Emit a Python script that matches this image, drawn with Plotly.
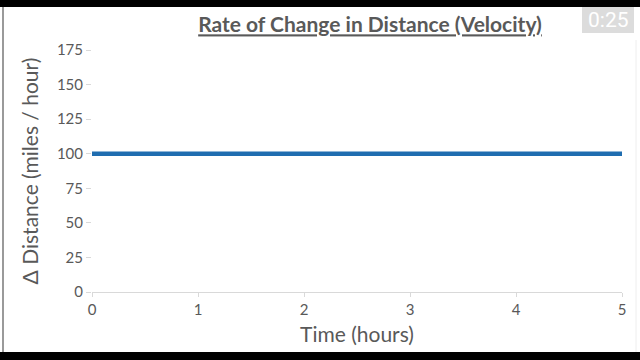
import plotly.graph_objects as go

# Data
time_hours = [0, 1, 2, 3, 4, 5]
velocity_mph = [100, 100, 100, 100, 100, 100]
x_ticks = [0, 1, 2, 3, 4, 5]
y_ticks = [0, 25, 50, 75, 100, 125, 150, 175]

FONT = "Lato"
GREY = "#595959"

fig = go.Figure()
fig.add_trace(go.Scatter(
    x=time_hours, y=velocity_mph, mode="lines",
    line=dict(color="#1F6DB0", width=4.5),
    hoverinfo="skip", showlegend=False,
))

# paper-coordinate helpers (plot area: x 92..622 px, y 50..292 px)
L, R, T, B = 92, 18, 50, 68
PW, PH = 640 - L - R, 360 - T - B
def px(q):
    return (q - L) / PW
def py(p):
    return (360 - B - p) / PH

shapes = [
    # white slide on the black screen-capture background
    dict(type="rect", xref="paper", yref="paper", x0=px(0), x1=px(640), y0=py(352), y1=py(7),
         fillcolor="white", line_width=0, layer="below"),
    # slide border left
    dict(type="line", xref="paper", yref="paper", x0=px(3), x1=px(3), y0=py(352), y1=py(7),
         line=dict(color="#9a9a9a", width=2)),
    dict(type="line", xref="paper", yref="paper", x0=px(636), x1=px(636), y0=py(352), y1=py(40),
         line=dict(color="#eeeeee", width=1)),
    # timer box
    dict(type="rect", xref="paper", yref="paper", x0=px(582), x1=px(634), y0=py(33), y1=py(7),
         fillcolor="#dcdcdc", line_width=0, layer="above"),
]

annotations = [
    dict(text="0:25", xref="paper", yref="paper", x=px(608), y=py(20),
         showarrow=False, font=dict(family="Roboto", size=21, color="white"),
         xanchor="center", yanchor="middle"),
]

fig.update_layout(
    width=640, height=360,
    margin=dict(l=L, r=R, t=T, b=B),
    paper_bgcolor="black", plot_bgcolor="white",
    title=dict(text="<b>Rate of Change in Distance (Velocity)</b>",
               x=370 / 640, xanchor="center", y=1 - 25 / 360, yanchor="middle",
               xref="container", yref="container",
               font=dict(family=FONT, size=21, color=GREY, lineposition="under")),
    xaxis=dict(range=[0, 5], tickvals=x_ticks, showgrid=False, zeroline=False,
               showline=True, linecolor="#d9d9d9", linewidth=1,
               ticks="outside", ticklen=4, tickcolor="#d9d9d9",
               tickfont=dict(family=FONT, size=15, color=GREY),
               title=dict(text="Time (hours)", font=dict(family=FONT, size=21, color=GREY), standoff=10)),
    yaxis=dict(range=[0, 175], tickvals=y_ticks, showgrid=False, zeroline=False,
               showline=False, ticks="outside", ticklen=5, tickcolor="#d9d9d9",
               tickfont=dict(family=FONT, size=15, color=GREY),
               title=dict(text="Δ Distance (miles / hour)", font=dict(family=FONT, size=21, color=GREY), standoff=12)),
    shapes=shapes, annotations=annotations,
)

fig.write_html(
    "out.html",
    config={"displayModeBar": False, "staticPlot": True},
    post_script="document.body.style.margin='0';document.body.style.overflow='hidden';document.body.style.background='black';window.scrollTo(0,0);",
)
